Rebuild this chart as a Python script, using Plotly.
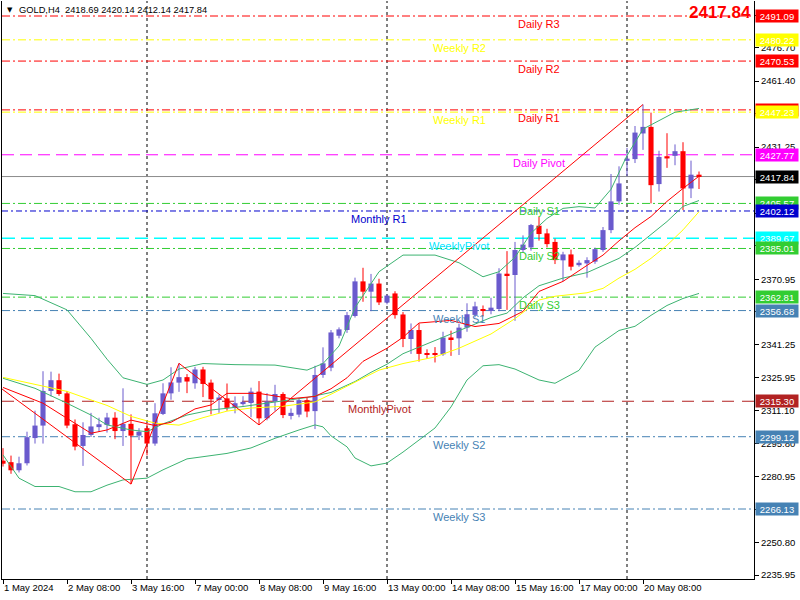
import plotly.graph_objects as go

# ---------------- data ----------------
symbol = "GOLD,H4"
x_tick_bars = [0, 8, 16, 24, 32, 40, 48, 56, 64, 72, 80]
x_tick_labels = ["1 May 2024", "2 May 08:00", "3 May 16:00", "7 May 00:00", "8 May 08:00",
                 "9 May 16:00", "13 May 00:00", "14 May 08:00", "15 May 16:00",
                 "17 May 00:00", "20 May 08:00"]
week_start_bars = [18, 48, 78]
y_tick_values = [2235.95, 2250.80, 2266.10, 2280.95, 2295.80, 2311.10, 2325.95, 2341.25,
                 2356.10, 2370.95, 2386.25, 2401.10, 2416.40, 2431.25, 2446.55, 2461.40,
                 2476.70, 2491.55]

opens = [2288.2, 2287.5, 2283.8, 2287.0, 2298.5, 2304.2, 2320.0, 2324.9, 2318.9, 2304.8,
         2294.9, 2299.9, 2303.5, 2304.5, 2307.8, 2301.7, 2305.0, 2299.6, 2303.0, 2296.0,
         2309.5, 2318.9, 2323.8, 2326.3, 2323.5, 2329.8, 2323.8, 2316.2, 2316.6, 2312.3,
         2314.0, 2314.5, 2319.7, 2307.5, 2315.2, 2318.6, 2308.6, 2309.2, 2315.8, 2310.8,
         2327.3, 2330.6, 2345.2, 2347.8, 2354.2, 2370.0, 2365.3, 2369.0, 2360.3, 2364.5,
         2354.9, 2343.7, 2347.8, 2337.3, 2337.2, 2336.7, 2344.4, 2344.0, 2348.9, 2354.7,
         2357.4, 2356.5, 2357.4, 2373.5, 2372.9, 2384.3, 2385.5, 2395.4, 2391.9, 2388.0,
         2379.6, 2382.3, 2377.4, 2378.2, 2379.0, 2384.3, 2393.4, 2406.5, 2425.0, 2425.8,
         2437.5, 2440.5, 2414.4, 2427.1, 2427.3, 2429.4, 2412.4, 2418.69]
highs = [2293.9, 2290.5, 2290.0, 2301.4, 2311.0, 2329.0, 2328.8, 2327.9, 2320.0, 2307.0,
         2305.7, 2310.0, 2307.8, 2310.0, 2310.3, 2321.2, 2309.3, 2303.0, 2304.8, 2314.4,
         2323.5, 2330.8, 2332.6, 2327.7, 2331.0, 2331.0, 2325.2, 2318.3, 2323.4, 2317.5,
         2317.6, 2321.5, 2324.5, 2319.0, 2322.8, 2319.4, 2312.0, 2316.7, 2317.0, 2331.5,
         2339.9, 2347.8, 2349.0, 2356.0, 2371.7, 2376.2, 2373.4, 2371.2, 2364.0, 2365.5,
         2356.0, 2350.8, 2350.8, 2339.0, 2340.0, 2347.0, 2347.5, 2350.7, 2360.0, 2360.7,
         2359.0, 2362.5, 2376.0, 2383.8, 2388.0, 2391.0, 2396.2, 2399.4, 2394.0, 2389.5,
         2383.5, 2384.5, 2379.6, 2381.0, 2385.4, 2394.8, 2419.0, 2422.5, 2430.9, 2440.9,
         2450.7, 2447.0, 2429.6, 2437.6, 2432.5, 2433.5, 2425.1, 2420.14]
lows = [2285.5, 2282.2, 2282.8, 2286.0, 2296.0, 2296.0, 2317.5, 2317.8, 2303.0, 2292.9,
        2285.8, 2299.0, 2301.3, 2301.0, 2298.0, 2294.9, 2277.5, 2297.6, 2290.6, 2295.0,
        2309.0, 2316.0, 2319.6, 2319.0, 2321.0, 2317.2, 2309.3, 2310.0, 2311.0, 2309.8,
        2313.3, 2308.0, 2304.5, 2306.6, 2311.0, 2307.6, 2307.0, 2308.0, 2308.0, 2302.6,
        2326.0, 2329.0, 2344.0, 2346.5, 2353.5, 2360.7, 2356.4, 2359.2, 2359.5, 2353.0,
        2340.0, 2336.9, 2333.4, 2334.7, 2333.0, 2336.0, 2336.0, 2336.4, 2347.0, 2353.6,
        2354.0, 2355.0, 2356.4, 2357.0, 2352.0, 2383.0, 2384.0, 2388.6, 2385.5, 2377.9,
        2370.1, 2375.0, 2376.7, 2371.7, 2378.0, 2383.5, 2392.0, 2405.0, 2418.0, 2424.0,
        2430.0, 2405.6, 2411.0, 2421.8, 2423.0, 2402.5, 2408.0, 2412.14]
closes = [2286.8, 2283.8, 2287.0, 2298.9, 2304.2, 2320.0, 2324.9, 2318.6, 2304.2, 2294.6,
          2299.9, 2303.8, 2304.8, 2307.9, 2301.7, 2305.0, 2299.6, 2301.4, 2296.0, 2309.8,
          2318.9, 2323.9, 2326.3, 2324.3, 2329.8, 2323.2, 2316.2, 2317.0, 2312.3, 2314.4,
          2315.0, 2319.7, 2307.5, 2315.2, 2318.6, 2309.0, 2310.0, 2315.8, 2310.6, 2327.3,
          2332.6, 2346.7, 2348.1, 2354.6, 2370.0, 2365.3, 2369.0, 2360.4, 2363.5, 2354.6,
          2343.7, 2347.8, 2336.9, 2336.6, 2336.7, 2344.4, 2343.6, 2348.9, 2355.0, 2358.6,
          2356.5, 2358.0, 2373.6, 2372.9, 2384.3, 2386.8, 2395.7, 2391.6, 2387.0, 2379.7,
          2382.3, 2376.7, 2378.5, 2379.7, 2384.7, 2393.4, 2406.5, 2414.7, 2426.0, 2437.9,
          2440.5, 2413.9, 2426.8, 2426.1, 2429.4, 2412.4, 2418.69, 2417.84]

# indicator lines (bar index, price)
fast_ma_bars = [0, 5, 8, 11, 13, 16, 19, 21, 24, 26, 28, 32, 36, 39, 41, 43, 45, 48, 50, 52,
                56, 59, 62, 65, 67, 70, 73, 75, 77, 79, 81, 83, 85, 87]
fast_ma_vals = [2321.6, 2314.4, 2307.5, 2300.7, 2302.2, 2306.7, 2304.2, 2305.7, 2311.8, 2313.6,
                2318.9, 2318.9, 2316.5, 2317.5, 2321.0, 2326.0, 2333.5, 2339.5, 2344.5, 2351.0,
                2352.2, 2349.4, 2350.8, 2356.3, 2365.4, 2370.0, 2377.3, 2382.0, 2388.5, 2394.5,
                2399.6, 2406.5, 2412.4, 2418.0]
slow_ma_bars = [0, 5, 8, 11, 13, 16, 19, 22, 25, 28, 31, 35, 39, 41, 44, 47, 50, 54, 57, 61,
                64, 67, 69, 73, 75, 77, 79, 81, 83, 85, 87]
slow_ma_vals = [2326.2, 2322.0, 2319.8, 2315.9, 2313.4, 2308.4, 2305.3, 2304.4, 2307.8, 2310.8,
                2312.2, 2313.0, 2315.0, 2318.5, 2324.0, 2329.5, 2332.5, 2335.5, 2339.5, 2346.0,
                2353.0, 2361.5, 2363.2, 2364.8, 2366.8, 2371.5, 2375.5, 2380.5, 2386.5, 2393.5,
                2401.8]
bb_upper_bars = [0, 4, 8, 11, 13, 15, 18, 20, 22, 25, 29, 34, 38, 40, 42, 44, 47, 50, 54, 57,
                 60, 62, 64, 66, 68, 70, 72, 74, 76, 78, 80, 82, 84, 87]
bb_upper_vals = [2364.5, 2363.5, 2357.0, 2344.0, 2334.5, 2326.0, 2323.0, 2325.0, 2330.0, 2332.5,
                 2332.0, 2331.8, 2329.5, 2332.5, 2340.5, 2358.0, 2374.4, 2382.0, 2382.0, 2378.5,
                 2372.1, 2374.4, 2381.0, 2392.0, 2398.7, 2403.3, 2404.1, 2403.5, 2412.0, 2427.4,
                 2439.5, 2443.5, 2447.2, 2448.9]
bb_mid_bars = [0, 4, 8, 11, 13, 16, 18, 20, 23, 26, 30, 34, 38, 41, 44, 46, 48, 50, 52, 57,
               61, 63, 65, 67, 70, 73, 77, 79, 81, 83, 85, 87]
bb_mid_vals = [2325.8, 2321.2, 2314.4, 2309.0, 2304.5, 2302.2, 2301.4, 2305.0, 2309.0, 2311.3,
               2312.9, 2315.1, 2317.0, 2319.3, 2324.3, 2328.5, 2332.2, 2337.0, 2340.0, 2347.2,
               2353.5, 2355.5, 2362.5, 2368.0, 2371.5, 2374.0, 2380.5, 2385.5, 2391.6, 2397.3,
               2404.2, 2406.9]
bb_lower_bars = [0, 2, 4, 7, 9, 11, 13, 15, 18, 20, 23, 25, 28, 31, 34, 37, 39, 40, 41, 43,
                 44, 46, 48, 50, 52, 54, 56, 58, 60, 62, 64, 67, 69, 72, 74, 77, 79, 81, 83,
                 85, 87]
bb_lower_vals = [2290.8, 2280.2, 2276.4, 2276.4, 2274.0, 2274.0, 2277.0, 2279.4, 2280.2, 2284.0,
                 2289.0, 2290.0, 2291.5, 2294.0, 2298.4, 2302.2, 2304.5, 2303.6, 2299.5, 2294.5,
                 2289.4, 2285.8, 2287.1, 2292.1, 2297.6, 2303.1, 2312.7, 2325.0, 2331.5, 2332.0,
                 2330.0, 2325.0, 2323.5, 2329.4, 2340.0, 2347.6, 2349.5, 2354.5, 2359.0, 2362.2,
                 2364.5]
zigzag_bars = [-6, 16, 22, 32, 80]
zigzag_vals = [2336.7, 2277.5, 2332.6, 2304.5, 2450.7]

level_names = ["Daily R3", "Weekly R2", "Daily R2", "Daily R1", "Weekly R1", "Daily Pivot",
               "Daily S1", "Monthly R1", "WeeklyPivot", "Daily S2", "Daily S3", "Weekly S1",
               "MonthlyPivot", "Weekly S2", "Weekly S3"]
level_values = [2491.09, 2480.22, 2470.53, 2448.25, 2447.23, 2427.77, 2405.57, 2402.12,
                2389.67, 2385.01, 2362.81, 2356.68, 2315.30, 2299.12, 2266.13]

# ---------------- styles ----------------
FONT = "Liberation Sans, Arial, sans-serif"
UP = "#6A5ACD"
DOWN = "#FF0000"
RED = "#FF0000"
YEL = "#FFFF00"
GRN = "#32CD32"
STEEL = "#4682B4"
DASHDOT = "8px,3px,2px,3px"
LONG = "12px,6px"
level_style = {
    "Daily R3": (RED, DASHDOT, RED), "Weekly R2": (YEL, DASHDOT, YEL),
    "Daily R2": (RED, DASHDOT, RED), "Daily R1": (RED, DASHDOT, RED),
    "Weekly R1": (YEL, DASHDOT, YEL), "Daily Pivot": ("#FF00FF", LONG, "#FF00FF"),
    "Daily S1": (GRN, DASHDOT, GRN), "Monthly R1": ("#0000CD", "6px,3px,2px,3px", "#0000CD"),
    "WeeklyPivot": ("#00FFFF", "13px,6px", "#00E5FF"), "Daily S2": (GRN, DASHDOT, GRN),
    "Daily S3": (GRN, DASHDOT, GRN), "Weekly S1": (STEEL, DASHDOT, STEEL),
    "MonthlyPivot": ("#B22222", "12px,8px", "#B22222"), "Weekly S2": (STEEL, DASHDOT, STEEL),
    "Weekly S3": (STEEL, DASHDOT, STEEL),
}
label_bar = {"Daily": 67, "Weekly": 57, "Monthly": 47}

PL, PR, PT, PB = 2, 754, 1, 579
W, H = 800, 600


def paper_x(px):
    return (px - PL) / (PR - PL)


def paper_y(py):
    return (PB - py) / (PB - PT)


fig = go.Figure()

# candle bodies
n = len(opens)
idx = list(range(n))
bases = [min(o, c) for o, c in zip(opens, closes)]
heights = [max(abs(c - o), 0.45) for o, c in zip(opens, closes)]
colors = [UP if c >= o else DOWN for o, c in zip(opens, closes)]

for col in (UP, DOWN):
    wx, wy = [], []
    for i in idx:
        if colors[i] == col:
            wx += [i, i, None]
            wy += [lows[i], highs[i], None]
    fig.add_trace(go.Scatter(x=wx, y=wy, mode="lines", line=dict(color=col, width=1),
                             hoverinfo="skip"))

fig.add_trace(go.Bar(x=idx, y=heights, base=bases, width=0.64,
                     marker=dict(color=colors, line=dict(width=0)), hoverinfo="skip"))

# indicators
for bx, vy, col in [(bb_upper_bars, bb_upper_vals, "#3CB371"),
                    (bb_mid_bars, bb_mid_vals, "#3CB371"),
                    (bb_lower_bars, bb_lower_vals, "#3CB371"),
                    (slow_ma_bars, slow_ma_vals, "#FFFF00"),
                    (fast_ma_bars, fast_ma_vals, "#FF0000"),
                    (zigzag_bars, zigzag_vals, "#FF0000")]:
    fig.add_trace(go.Scatter(x=bx, y=vy, mode="lines", line=dict(color=col, width=1),
                             hoverinfo="skip"))

shapes = []
annotations = []

# week separators
for b in week_start_bars:
    shapes.append(dict(type="line", xref="x", yref="paper", x0=b, x1=b, y0=0, y1=1,
                       line=dict(color="black", width=1, dash="3px,3px"), layer="below"))

# current price line
last_close = closes[-1]
shapes.append(dict(type="line", xref="paper", yref="y", x0=0, x1=1, y0=last_close,
                   y1=last_close, line=dict(color="#8C8C8C", width=1), layer="below"))

# pivot levels
for name, val in zip(level_names, level_values):
    col, dash, tcol = level_style[name]
    shapes.append(dict(type="line", xref="paper", yref="y", x0=0, x1=1, y0=val, y1=val,
                       line=dict(color=col, width=1.3 if name == "WeeklyPivot" else 1,
                                 dash=dash), layer="below"))
    group = "Daily" if name.startswith("Daily") else ("Weekly" if name.startswith("Weekly")
                                                      else "Monthly")
    annotations.append(dict(x=label_bar[group], y=val, xref="x", yref="y", text=name,
                            showarrow=False, xanchor="center", yanchor="top",
                            font=dict(family=FONT, size=11, color=tcol)))

# right price boxes
for name, val in zip(level_names, level_values):
    col = level_style[name][0]
    annotations.append(dict(x=1, y=val, xref="paper", yref="y", xanchor="left",
                            yanchor="middle", xshift=1, text=f"{val:.2f}", showarrow=False,
                            width=42, height=12, bgcolor=col, borderpad=0,
                            font=dict(family=FONT, size=9.5, color="white")))
annotations.append(dict(x=1, y=last_close, xref="paper", yref="y", xanchor="left",
                        yanchor="middle", xshift=1, text=f"{last_close:.2f}", showarrow=False,
                        width=42, height=12, bgcolor="black", borderpad=0,
                        font=dict(family=FONT, size=9.5, color="white")))

# header
annotations.append(dict(x=paper_x(9.5), y=paper_y(10), xref="paper", yref="paper",
                        text="\u25BC", showarrow=False, xanchor="center", yanchor="middle",
                        font=dict(family="DejaVu Sans", size=7, color="black")))
header = (f"{symbol}\u00a0\u00a0{opens[-1]:.2f} {highs[-1]:.2f} "
          f"{lows[-1]:.2f} {closes[-1]:.2f}")
annotations.append(dict(x=paper_x(17), y=paper_y(10), xref="paper", yref="paper",
                        text=header, showarrow=False, xanchor="left", yanchor="middle",
                        font=dict(family=FONT, size=9.3, color="black")))
annotations.append(dict(x=paper_x(753), y=paper_y(12.5), xref="paper", yref="paper",
                        text=f"<b>{last_close:.2f}</b>", showarrow=False, xanchor="right",
                        yanchor="middle", font=dict(family=FONT, size=17, color="#FF0000")))

y_lo = 2234.19
y_hi = 2497.94

fig.update_layout(
    width=W, height=H,
    margin=dict(l=PL, r=W - PR, t=PT, b=H - PB, pad=0, autoexpand=False),
    paper_bgcolor="white", plot_bgcolor="white",
    showlegend=False, hovermode=False, barmode="overlay",
    shapes=shapes, annotations=annotations,
    font=dict(family=FONT, size=9.5, color="black"),
    xaxis=dict(range=[-0.125, 93.875], tickmode="array", tickvals=x_tick_bars,
               ticktext=x_tick_labels, ticks="outside", ticklen=4, tickcolor="black",
               ticklabelposition="outside right", tickangle=0, automargin=False,
               showgrid=False, zeroline=False,
               showline=True, linecolor="black", linewidth=1, fixedrange=True,
               tickfont=dict(family=FONT, size=9.5, color="black")),
    yaxis=dict(range=[y_lo, y_hi], side="right", tickmode="array", tickvals=y_tick_values,
               ticktext=[f"{v:.2f}" for v in y_tick_values], ticks="outside", ticklen=4,
               tickcolor="black", showgrid=False, zeroline=False, showline=True,
               automargin=False,
               linecolor="black", linewidth=1, mirror=True, fixedrange=True,
               tickfont=dict(family=FONT, size=9.5, color="black")),
)

fig.write_html("out.html", config={"displayModeBar": False},
               post_script="document.body.style.margin='0';document.body.style.overflow='hidden';")
